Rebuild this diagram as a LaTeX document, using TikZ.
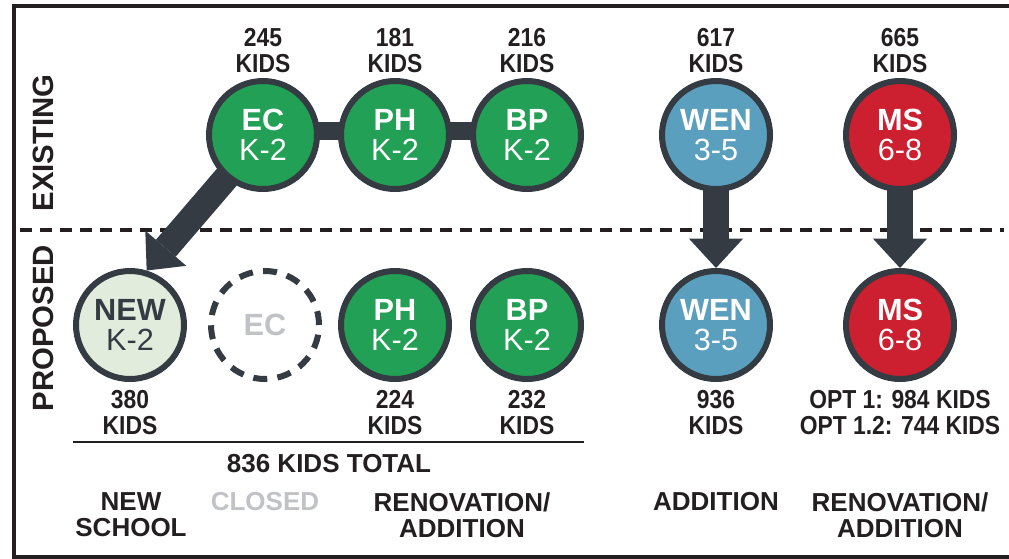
\documentclass[tikz,border=0pt]{standalone}
\usepackage{fontspec}
\setmainfont{Liberation Sans}
\newfontfamily\tightsf[FakeStretch=0.88]{Liberation Sans}
\usetikzlibrary{positioning,arrows.meta,backgrounds}
\definecolor{ink}{HTML}{231F20}
\definecolor{slate}{HTML}{353B42}
\definecolor{kgreen}{HTML}{22A055}
\definecolor{wblue}{HTML}{5B9FBE}
\definecolor{mred}{HTML}{CC1F2F}
\definecolor{newfill}{HTML}{E2ECDD}
\definecolor{faded}{HTML}{C1C2C6}
\tikzset{
school/.style={
  circle,
  draw=slate,
  line width=4.5pt,
  minimum size=81pt,
  inner sep=0pt,
  align=center,
  text=white,
  font=\fontsize{23}{22.5}\selectfont
  },
kids/.style={
  inner sep=0pt,
  align=center,
  text=ink,
  font=\bfseries\fontsize{19.5}{19.5}\selectfont
  },
count/.style={
  kids,
  font=\tightsf\bfseries\fontsize{19.5}{19.5}\selectfont
  },
side/.style={
  inner sep=0pt,
  rotate=90,
  text=ink,
  font=\bfseries\fontsize{22}{22}\selectfont
  },
link/.style={
  draw=slate,
  line width=13.5pt
  },
fat/.style={
  draw=slate,
  line width=19.5pt,
  -{Triangle[width=40.5pt,length=22pt,line width=0pt]}
  },
divider/.style={
  draw=ink,
  line width=3pt,
  dash pattern=on 9pt off 6pt
  }
}

\begin{document}
\begin{tikzpicture}[x=0.75pt,y=-0.75pt]
\useasboundingbox (0,0) rectangle (1009,558);
\draw[ink,line width=3pt] (1009,6) -- (14,6) -- (14,556.5) -- (1009,556.5);

\node[side] (exist) at (43,143) {EXISTING};
\node[side] (prop) at (43,328) {PROPOSED};

\node[school,fill=kgreen] (ec) at (263,135) {\textbf{EC}\\K-2};
\node[school,fill=kgreen] (ph) at (395,135) {\textbf{PH}\\K-2};
\node[school,fill=kgreen] (bp) at (527,135) {\textbf{BP}\\K-2};
\node[school,fill=wblue] (wen) at (716,135) {\textbf{WEN}\\3-5};
\node[school,fill=mred] (ms) at (900,135) {\textbf{MS}\\6-8};

\node[count,above=3.75pt of ec] (ec-n) {245\\KIDS};
\node[count,above=3.75pt of ph] (ph-n) {181\\KIDS};
\node[count,above=3.75pt of bp] (bp-n) {216\\KIDS};
\node[count,above=3.75pt of wen] (wen-n) {617\\KIDS};
\node[count,above=3.75pt of ms] (ms-n) {665\\KIDS};

\node[school,fill=newfill,text=slate] (new) at (130,325) {\textbf{NEW}\\K-2};
\node[school,fill=white,text=faded,dash pattern=on 10.5pt off 7.7pt] (old) at (265,325) {\textbf{EC}};
\node[school,fill=kgreen] (ph2) at (395,325) {\textbf{PH}\\K-2};
\node[school,fill=kgreen] (bp2) at (527,325) {\textbf{BP}\\K-2};
\node[school,fill=wblue] (wen2) at (716,325) {\textbf{WEN}\\3-5};
\node[school,fill=mred] (ms2) at (900,325) {\textbf{MS}\\6-8};

\node[count,below=6pt of new] (new-n) {380\\KIDS};
\node[count,below=6pt of ph2] (ph2-n) {224\\KIDS};
\node[count,below=6pt of bp2] (bp2-n) {232\\KIDS};
\node[count,below=6pt of wen2] (wen2-n) {936\\KIDS};
\node[count,below=6pt of ms2] (ms2-n) {OPT 1: 984 KIDS\\OPT 1.2: 744 KIDS};

\begin{scope}[on background layer]
\draw[divider] (20,230) -- (1004,230);
\draw[link] ([yshift=3pt]ec.center) -- ([yshift=3pt]ph.center);
\draw[link] ([yshift=3pt]ph.center) -- ([yshift=3pt]bp.center);
\draw[fat] (ec.center) -- (new.73);
\draw[fat] (wen.center) -- (wen2.north);
\draw[fat] (ms.center) -- (ms2.north);
\end{scope}

\draw[ink,line width=1.2pt] (73,442) -- (584,442);
\node[kids] (total) at (329,464) {836 KIDS TOTAL};

\node[kids,anchor=north] (cat-new) at (131,492) {NEW\\SCHOOL};
\node[kids,anchor=north,text=faded] (cat-closed) at (265,492) {CLOSED};
\node[kids,anchor=north] (cat-reno) at (462,492) {RENOVATION/\\ADDITION};
\node[kids,anchor=north] (cat-add) at (716,492) {ADDITION};
\node[kids,anchor=north] (cat-reno2) at (900,492) {RENOVATION/\\ADDITION};
\end{tikzpicture}
\end{document}
